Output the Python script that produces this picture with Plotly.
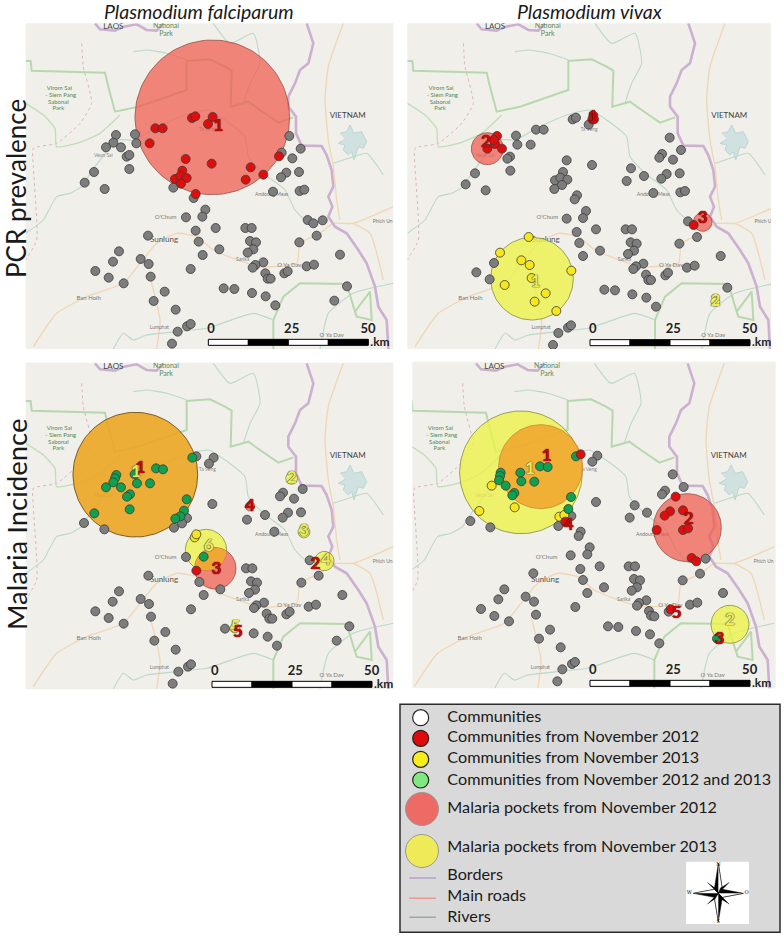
import numpy as np
import plotly.graph_objects as go

W, H = 784, 936
FONT = "Lato"

# ---------- base map ----------
border_top = [(285,70),(300,88),(345,92),(372,80),(410,73),(440,90),(470,92),(490,70)]
border_right = [(920,70),(930,100),(940,130),(925,190),(900,210),(885,250),(865,290),(865,320),(888,350),
                (888,400),(905,437),(965,438),(980,465),(995,510),(1000,560),(985,590),(997,620),(985,650),
                (1005,680),(1040,700),(1075,750),(1100,790),(1125,860),(1135,920),(1160,960),(1165,1047)]
park_a = [(77,183),(92,183),(95,212),(315,218),(325,260),(345,335),(415,320),(560,270),(560,183),(630,178),
          (675,200),(695,212),(692,320),(745,305),(780,330),(835,368),(880,352)]
park_b = [(820,1047),(820,960),(850,890),(900,850),(1040,852),(1065,935),(1110,875),(1115,960),(1070,950),(1065,935)]
park_c = [(77,310),(130,345),(165,385),(170,440),(230,430),(300,400),(360,345)]
river_a = [(245,560),(285,500),(355,420),(400,420),(465,385),(555,345),(625,330),(675,360),(735,410),(745,470),
           (790,520),(855,570),(885,630),(925,670)]
river_b = [(340,1047),(370,1000),(400,1020),(440,1005),(530,995),(620,985),(760,940),(820,960)]
river_c = [(77,700),(130,660),(170,590),(210,580),(245,560)]
river_d = [(640,70),(690,130),(760,100),(780,190),(750,250),(730,310)]
river_e = [(960,1047),(985,940),(1060,880),(1180,850)]
river_f = [(400,155),(440,150),(500,160),(560,180)]
river_g = [(1000,490),(1060,470),(1100,460),(1150,525)]
road_a = [(100,1040),(170,940),(260,890),(370,850),(420,790),(470,730),(530,700),(590,710),(640,750),(700,775),
          (780,800),(890,790),(900,730),(960,700),(1000,670),(1060,670),(1180,620)]
road_b = [(1030,70),(985,200),(975,300),(985,420),(1000,500),(1010,600),(1020,660)]
road_c = [(1060,670),(1110,700),(1150,840)]
road_d = [(450,830),(480,960),(470,1047)]
track = [(245,130),(250,200),(275,310),(240,370),(170,430),(100,445),(100,500),(110,720),(77,780)]
lake_x = [1020,1040,1050,1062,1085,1100,1090,1075,1062,1055,1045,1030,1035,1015,1035]
lake_y = [400,395,375,400,395,425,445,440,480,455,465,450,435,430,418]
map_names = ["LAOS","National","Park","Virom Sai","- Siem Pang","Sabonal","Park","Veun Sai","Ta Veng",
             "Andoung Meas","O'Chum","Sunlung","Sarika","O Ya Dav","Ban Hoih","Lumphat","Phich Un","VIETNAM","O Ya Dav"]
map_x = [340,498,498,178,182,175,175,310,622,815,497,492,728,868,266,478,1148,1043,995]
map_y = [82,80,103,265,287,307,327,467,388,583,653,720,778,797,895,982,665,347,1008]
map_sz = [8,7,7,6,6,6,6,5,5,5,6,8,5,6,6,5,5,8,6]
map_col = ["#444","#5c8a5c","#5c8a5c","#4f8a4f","#4f8a4f","#4f8a4f","#4f8a4f","#888","#888","#777","#777","#555","#777","#777","#777","#777","#777","#444","#777"]

# ---------- panel 1 ----------
p1_gray = [(348,405),(340,428),(405,403),(409,430),(318,442),(363,442),(380,470),(388,465),(388,507),(282,516),(254,548),(314,567),(520,563),(581,594),(616,629),(607,650),(558,652),(587,692),(647,684),(736,684),(755,684),(444,707),(596,725),(750,723),(768,727),(760,748),(743,758),(658,748),(608,765),(357,754),(339,785),(422,777),(446,792),(286,813),(326,833),(452,830),(371,850),(572,807),(790,787),(766,795),(758,803),(796,820),(803,836),(812,836),(853,820),(863,814),(920,799),(942,794),(1020,764),(898,727),(950,707),(923,660),(940,670),(968,661),(671,865),(703,867),(756,879),(797,889),(826,916),(494,875),(461,903),(527,929),(1003,902),(1041,859),(561,979),(572,972),(533,995),(516,1031),(868,408),(902,446),(845,458),(877,475),(897,516),(859,518),(843,532),(899,573),(913,569),(819,575)]
p1_red = [(466,385),(488,385),(449,430),(576,354),(586,349),(638,351),(624,372),(557,477),(635,491),(547,512),(525,537),(541,528),(560,534),(543,551),(587,582),(752,502),(737,539),(790,524),(837,469)]
p1_yellow, p1_green = [], []
p1_circles = [("red",637,352,232)]
p1_labels = [("1",655,380,"r")]

# ---------- panel 2 ----------
p2_gray = [(518,358),(528,353),(566,374),(408,389),(431,389),(348,407),(352,434),(392,434),(330,470),(322,476),(331,512),(225,520),(197,553),(257,571),(500,481),(576,495),(489,516),(465,541),(481,533),(502,539),(486,555),(463,567),(531,586),(524,598),(558,633),(549,654),(500,656),(530,696),(588,688),(677,688),(696,688),(538,729),(692,727),(710,731),(702,752),(684,762),(600,752),(549,768),(730,791),(708,799),(700,807),(738,824),(745,840),(753,840),(796,826),(804,818),(861,803),(884,797),(962,768),(838,731),(891,711),(864,664),(229,817),(269,838),(282,789),(613,869),(645,871),(697,883),(739,893),(768,920),(982,863),(475,999),(504,983),(513,976),(459,1035),(809,413),(843,450),(786,462),(778,473),(819,479),(693,505),(732,528),(680,543),(800,522),(784,536),(839,520),(841,577),(855,573),(760,579)]
p2_red = [(580,347),(577,358),(582,358),(291,408),(285,432),(262,446),(306,446),(281,420),(881,675)]
p2_yellow = [(386,711),(300,758),(364,781),(389,795),(514,812),(395,834),(314,855),(437,880),(404,905),(469,933)]
p2_green = []
p2_circles = [("red",262,446,48),("red",908,666,28),("yellow",396,836,124),("yellow",946,905,14)]
p2_labels = [("2",258,428,"r"),("1",579,352,"r"),("3",908,655,"r"),("1",407,848,"y"),("2",946,905,"y")]

# ---------- panel 3 ----------
p3_gray = [(589,319),(641,323),(627,341),(637,462),(908,417),(849,428),(840,439),(882,446),(795,495),(741,509),(864,488),(848,503),(903,487),(823,545),(561,504),(546,520),(522,533),(252,519),(313,538),(558,621),(445,677),(738,655),(757,655),(598,696),(753,694),(771,698),(765,719),(747,729),(661,718),(611,735),(357,724),(338,755),(422,747),(447,762),(286,784),(326,804),(453,800),(371,821),(573,778),(792,758),(769,766),(762,774),(800,791),(808,806),(817,806),(859,793),(869,785),(926,770),(948,764),(1027,735),(904,698),(956,677),(929,631),(675,836),(761,850),(803,860),(831,887),(496,846),(463,872),(527,899),(1010,872),(1048,829),(564,950),(573,943),(535,965),(518,1001)]
p3_red = [(589,662)]
p3_yellow = [(584,562),(589,553)]
p3_green = [(577,323),(349,375),(345,385),(340,397),(468,355),(489,358),(411,400),(450,400),(363,412),(318,412),(404,373),(390,433),(381,440),(389,478),(560,448),(552,482),(541,499),(526,506),(283,490),(611,620)]
p3_circles = [("yellow",618,600,62),("red",646,655,62),("orange",406,374,187),("yellow",875,385,18),("red",750,469,14),("yellow",912,546,18),("yellow",973,633,29),("yellow",704,835,14)]
p3_lens = [((618,600,62),(646,655,62))]
p3_labels = [("1",421,355,"r"),("1",408,368,"y"),("6",626,590,"y"),("3",649,660,"r"),("2",875,385,"y"),("4",750,469,"r"),("3",912,546,"y"),("2",946,645,"r"),("4",978,633,"y"),("5",706,833,"y"),("5",714,848,"r")]

# ---------- panel 4 ----------
p4_gray = [(592,317),(577,335),(818,373),(851,411),(795,422),(786,433),(704,466),(741,488),(689,503),(588,456),(514,498),(475,528),(211,513),(271,532),(542,545),(536,558),(569,592),(562,613),(512,616),(541,657),(599,649),(686,649),(705,649),(549,690),(702,687),(720,691),(711,712),(695,722),(612,712),(562,729),(400,670),(313,718),(295,748),(377,740),(402,755),(243,777),(283,798),(408,794),(327,814),(526,771),(739,751),(717,759),(711,767),(747,783),(753,797),(763,799),(806,785),(870,764),(892,758),(969,729),(848,691),(900,671),(917,626),(624,829),(655,831),(708,843),(750,853),(778,880),(450,839),(417,866),(482,892),(487,958),(516,942),(525,936),(472,994)]
p4_red = [(542,313),(827,440),(849,481),(810,484),(794,497),(770,540),(849,540),(864,535),(875,624),(889,634),(496,515),(812,778)]
p4_yellow = [(275,407),(238,483),(344,472),(478,500),(493,495)]
p4_green = [(528,319),(302,368),(300,378),(297,391),(420,349),(443,351),(361,368),(364,394),(403,395),(317,407),(343,429),(337,436),(513,441),(505,477),(951,866)]
p4_circles = [("yellow",363,367,184),("orange4",422,350,126),("red",862,533,102),("yellow",990,823,57)]
p4_labels = [("1",440,320,"r"),("1",390,360,"y"),("4",506,527,"r"),("2",866,508,"r"),("5",830,790,"r"),("2",990,813,"y"),("3",958,870,"r")]

# ---------- scale bars ----------
bar_ticks = ["0","25","50"]
bar_x0 = [625,570,636,570]
bar_y0 = [1018,1019,994,991]
bar_label_y = [990,990,964,962]

# ---------- legend ----------
legend_text = ["Communities","Communities from November 2012","Communities from November 2013",
               "Communities from November 2012 and 2013","Malaria pockets from November 2012",
               "Malaria pockets from November 2013","Borders","Main roads","Rivers"]
legend_text_y = [68,130,193,258,342,458,543,607,670]
legend_dot_y = [68,130,193,255]
legend_dot_col = ["#ffffff","#e00a0a","#f5ee1a","#7fe87f"]
legend_big_y = [342,468]
legend_big_col = ["#ee6a64","#eeea58"]
legend_line_y = [549,610,667]
legend_line_col = ["#b59fc9","#e79a92","#93aca6"]

panels = [
    dict(o=(0,0),xr=(77,1180),yr=(70,1047),d=(0,0),gray=p1_gray,red=p1_red,yellow=p1_yellow,green=p1_green,c=p1_circles,lens=[],lab=p1_labels),
    dict(o=(400,0),xr=(22,1113),yr=(70,1047),d=(-55,0),gray=p2_gray,red=p2_red,yellow=p2_yellow,green=p2_green,c=p2_circles,lens=[],lab=p2_labels),
    dict(o=(0,350),xr=(77,1180),yr=(38,1018),d=(0,-30),gray=p3_gray,red=p3_red,yellow=p3_yellow,green=p3_green,c=p3_circles,lens=p3_lens,lab=p3_labels),
    dict(o=(400,350),xr=(37,1127),yr=(35,1015),d=(-57,-30),gray=p4_gray,red=p4_red,yellow=p4_yellow,green=p4_green,c=p4_circles,lens=[],lab=p4_labels),
]

FILL = {"red":"rgba(240,90,78,0.72)","yellow":"rgba(236,242,70,0.78)","orange":"rgba(236,165,30,0.88)","orange4":"rgba(240,165,45,0.88)"}
EDGE = {"red":"rgba(150,80,70,0.8)","yellow":"rgba(130,140,70,0.8)","orange":"rgba(110,80,30,0.9)","orange4":"rgba(190,130,50,0.7)"}
LABC = {"r":("#c00d0d","0 0 1px #5a0000, 0 0 1px #5a0000"),"y":("#ecec50","0 0 1px #555, 0 0 1px #555, 0 0 1px #555")}

fig = go.Figure()
layout = {}
shapes = []

def circ(cx, cy, r, n=120):
    t = np.linspace(0, 2*np.pi, n)
    return cx + r*np.cos(t), cy + r*np.sin(t)

def lens(a, b):
    ax, ay = circ(*a, 360); bx, by = circ(*b, 360)
    ia = (ax-b[0])**2 + (ay-b[1])**2 <= b[2]**2
    ib = (bx-a[0])**2 + (by-a[1])**2 <= a[2]**2
    x = np.r_[ax[ia], bx[ib]]; y = np.r_[ay[ia], by[ib]]
    o = np.argsort(np.arctan2(y-y.mean(), x-x.mean()))
    return np.r_[x[o], x[o][0]], np.r_[y[o], y[o][0]]

for i, p in enumerate(panels, 1):
    ox, oy = p["o"]
    x0, x1 = p["xr"]; y0, y1 = p["yr"]
    px0, px1 = ox + x0/3, ox + x1/3
    py0, py1 = oy + y0/3, oy + y1/3
    sx = "" if i == 1 else str(i)
    layout[f"xaxis{sx}"] = dict(domain=[px0/W, px1/W], range=[x0, x1], visible=False, fixedrange=True, anchor=f"y{sx}")
    layout[f"yaxis{sx}"] = dict(domain=[1-py1/H, 1-py0/H], range=[y1, y0], visible=False, fixedrange=True, anchor=f"x{sx}")
    shapes.append(dict(type="rect", xref="paper", yref="paper", x0=px0/W, x1=px1/W, y0=1-py1/H, y1=1-py0/H,
                       fillcolor="#f1efe9", line_width=0, layer="below"))
    ax = dict(xaxis=f"x{sx}", yaxis=f"y{sx}", hoverinfo="skip", showlegend=False)
    dx, dy = p["d"]
    def line(pts, col, w, dash=None, smooth=True):
        a = np.array(pts, float)
        ln = dict(color=col, width=w, dash=dash)
        if smooth:
            ln.update(shape="spline", smoothing=0.5)
        fig.add_trace(go.Scatter(x=a[:,0]+dx, y=a[:,1]+dy, mode="lines", line=ln, **ax))
    fig.add_trace(go.Scatter(x=np.array(lake_x)+dx, y=np.array(lake_y)+dy, mode="lines", fill="toself", fillcolor="#cfe2df", line=dict(color="#b9d6d6", width=1), **ax))
    for r_ in (road_a, road_b, road_c, road_d):
        line(r_, "#f0d6b4", 1.3)
    for r_ in (river_a, river_b, river_c, river_d, river_e, river_f, river_g):
        line(r_, "#bcd8cc", 1.1)
    line(track, "#dcb2c4", 1.0, "dot")
    for r_ in (park_a, park_b):
        line(r_, "#b7d8ae", 2, smooth=False)
    line(park_c, "#c2dcba", 1.3)
    for r_ in (border_top, border_right):
        line(r_, "#cbb0d0", 2.6, smooth=False)
    fig.add_trace(go.Scatter(x=np.array(map_x)+dx, y=np.array(map_y)+dy, mode="text", text=map_names,
                             textfont=dict(family=FONT, size=map_sz, color=map_col), **ax))
    for kind, cx, cy, r in p["c"]:
        cxs, cys = circ(cx, cy, r)
        fig.add_trace(go.Scatter(x=cxs, y=cys, mode="lines", fill="toself", fillcolor=FILL[kind], line=dict(color=EDGE[kind], width=1), **ax))
    for a, b in p["lens"]:
        lx, ly = lens(a, b)
        fig.add_trace(go.Scatter(x=lx, y=ly, mode="lines", fill="toself", fillcolor="rgba(238,170,50,0.95)", line=dict(width=0), **ax))
    for key, col in (("gray","#7d7d7d"),("yellow","#f6e61e"),("green","#0fa050"),("red","#e00d0d")):
        pts = p[key]
        if pts:
            a = np.array(pts, float)
            fig.add_trace(go.Scatter(x=a[:,0], y=a[:,1], mode="markers",
                                     marker=dict(size=9, color=col, line=dict(color="#3a3a3a", width=0.8)), **ax))
    for t, lx, ly, k in p["lab"]:
        col, sh = LABC[k]
        fig.add_trace(go.Scatter(x=[lx], y=[ly], mode="text", text=[t],
                                 textfont=dict(family=FONT, size=17, color=col, weight="bold", shadow=sh), **ax))
    # scale bar
    bx, by = bar_x0[i-1], bar_y0[i-1]
    for k in range(4):
        col = "#ffffff" if k % 2 == 0 else "#000000"
        xs = [bx+120*k, bx+120*(k+1), bx+120*(k+1), bx+120*k, bx+120*k]
        ys = [by, by, by+18, by+18, by]
        fig.add_trace(go.Scatter(x=xs, y=ys, mode="lines", fill="toself", fillcolor=col, line=dict(color="#000", width=1), **ax))
    fig.add_trace(go.Scatter(x=[bx+8, bx+250, bx+479], y=[bar_label_y[i-1]]*3, mode="text", text=bar_ticks,
                             textfont=dict(family=FONT, size=13, color="#222", weight="bold"), **ax))
    fig.add_trace(go.Scatter(x=[bx+515], y=[by+10], mode="text", text=[".km"],
                             textfont=dict(family=FONT, size=12, color="#222", weight="bold"), **ax))

# legend panel (axes in the legend's own units)
lx0, ly0, lx1, ly1 = 30, 28, 1170, 712
pxl0, pxl1 = 390+lx0/3, 390+lx1/3
pyl0, pyl1 = 695+ly0/3, 695+ly1/3
layout["xaxis5"] = dict(domain=[pxl0/W, pxl1/W], range=[lx0, lx1], visible=False, fixedrange=True, anchor="y5")
layout["yaxis5"] = dict(domain=[1-pyl1/H, 1-pyl0/H], range=[ly1, ly0], visible=False, fixedrange=True, anchor="x5")
shapes.append(dict(type="rect", xref="paper", yref="paper", x0=pxl0/W, x1=pxl1/W, y0=1-pyl1/H, y1=1-pyl0/H,
                   fillcolor="#d9d9d9", line=dict(color="#2b2b2b", width=1.5), layer="below"))
ax = dict(xaxis="x5", yaxis="y5", hoverinfo="skip", showlegend=False)
fig.add_trace(go.Scatter(x=[172]*len(legend_text), y=legend_text_y, mode="text", text=legend_text, textposition="middle right",
                         textfont=dict(family=FONT, size=16.2, color="#1a1a1a"), **ax))
fig.add_trace(go.Scatter(x=[92]*4, y=legend_dot_y, mode="markers",
                         marker=dict(size=16, color=legend_dot_col, line=dict(color="#222", width=1.2)), **ax))
fig.add_trace(go.Scatter(x=[96]*2, y=legend_big_y, mode="markers",
                         marker=dict(size=33, color=legend_big_col, line=dict(color="#999", width=1)), **ax))
for yy, cc in zip(legend_line_y, legend_line_col):
    fig.add_trace(go.Scatter(x=[58,138], y=[yy,yy], mode="lines", line=dict(color=cc, width=1.5), **ax))
# compass
fig.add_trace(go.Scatter(x=[888,1077,1077,888,888], y=[500,500,687,687,500], mode="lines", fill="toself", fillcolor="#fff", line=dict(width=0), **ax))
star_x = [985,997,1060,997,985,973,910,973,985]
star_y = [505,583,595,607,680,607,595,583,505]
fig.add_trace(go.Scatter(x=star_x, y=star_y, mode="lines", fill="toself", fillcolor="#000", line=dict(color="#000", width=0.5), **ax))
for tx, ty in ([[985,997,985],[505,583,595]], [[985,973,985],[680,607,595]], [[1060,997,985],[595,607,595]], [[910,973,985],[595,583,595]]):
    fig.add_trace(go.Scatter(x=tx, y=ty, mode="lines", fill="toself", fillcolor="#fff", line=dict(color="#000", width=0.5), **ax))
for tx, ty in ([[952,985,975],[562,595,578]], [[1018,985,992],[562,595,578]], [[952,985,975],[628,595,612]], [[1018,985,992],[628,595,612]]):
    fig.add_trace(go.Scatter(x=tx, y=ty, mode="lines", fill="toself", fillcolor="#000", line=dict(color="#000", width=0.5), **ax))
fig.add_trace(go.Scatter(x=[985,985,898,1070], y=[509,680,594,594], mode="text", text=["N","S","W","O"],
                         textfont=dict(family="DejaVu Serif", size=5, color="#000"), **ax))

def note(text, x, y, size, italic=False, angle=0):
    return dict(text=text, xref="paper", yref="paper", x=x/W, y=1-y/H, showarrow=False, textangle=angle,
                xanchor="center", yanchor="middle", font=dict(family=FONT, size=size, color="#1a1a1a", style="italic" if italic else "normal"))

layout["annotations"] = [
    note("Plasmodium falciparum", 199, 12, 19.5, True),
    note("Plasmodium vivax", 590, 12, 19.5, True),
    note("PCR prevalence", 16, 189, 26, angle=-90),
    note("Malaria Incidence", 16, 524, 27.5, angle=-90),
]
layout["shapes"] = shapes
fig.update_layout(width=W, height=H, margin=dict(l=0,r=0,t=0,b=0), paper_bgcolor="#ffffff", plot_bgcolor="rgba(0,0,0,0)",
                  hovermode=False, showlegend=False, **layout)
fig.write_html("out.html", config=dict(displayModeBar=False),
               post_script="document.body.style.margin='0';document.documentElement.style.overflow='hidden';")
